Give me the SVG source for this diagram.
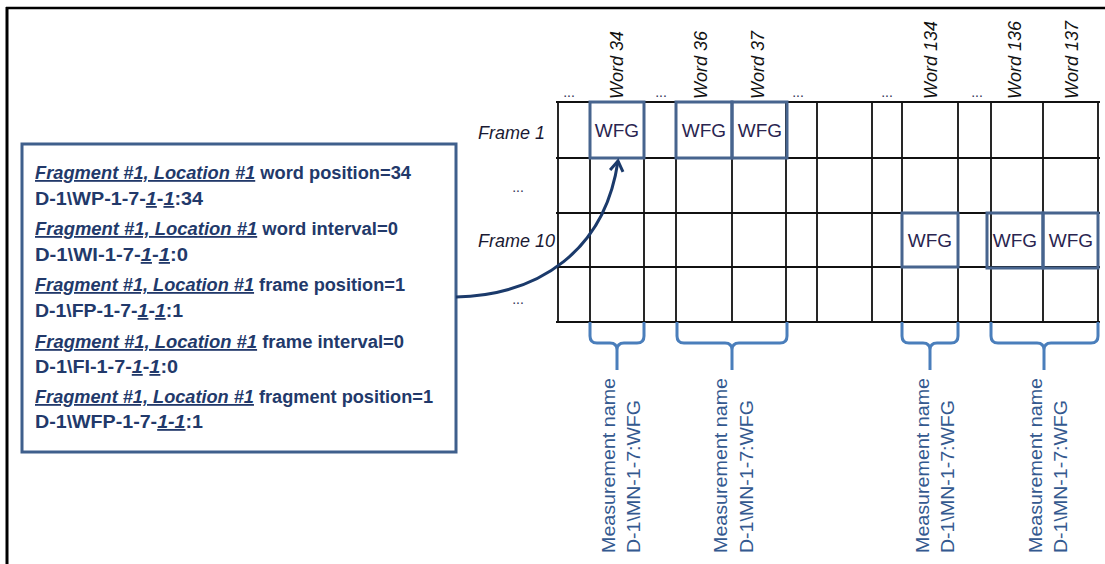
<svg xmlns="http://www.w3.org/2000/svg" width="1105" height="564" viewBox="0 0 1105 564">
<style>
.frame{stroke:#000;fill:none}
.grid{stroke:#111;stroke-width:1.8;fill:none}
.wfgbox{fill:none;stroke:#47648E;stroke-width:3}
.wfg{font-family:"Liberation Sans",Arial,sans-serif;font-size:19px;fill:#2a2550;text-anchor:middle}
.hdr{font-family:"Liberation Sans",Arial,sans-serif;font-size:18px;font-style:italic;fill:#111}
.row{font-family:"Liberation Sans",Arial,sans-serif;font-size:18px;font-style:italic;fill:#1a1a33}
.dots{font-family:"Liberation Sans",Arial,sans-serif;font-size:14px;fill:#333355;text-anchor:middle}
.info{font-family:"Liberation Sans",Arial,sans-serif;font-size:18px;font-weight:bold;fill:#22396A}
.u{font-style:italic;text-decoration:underline}
.brace{fill:none;stroke:#4A7EBB;stroke-width:3;stroke-linejoin:round}
.meas{font-family:"Liberation Sans",Arial,sans-serif;font-size:18px;fill:#34598F}
.conn{fill:none;stroke:#1B3A6B;stroke-width:3}
</style>
<defs>
<marker id="ah" viewBox="0 0 16 16" refX="13" refY="8" markerWidth="16" markerHeight="16" markerUnits="userSpaceOnUse" orient="auto">
<path d="M3,1.5 L13,8 L3,14.5" fill="none" stroke="#1B3A6B" stroke-width="3"/>
</marker>
</defs>
<rect width="1105" height="564" fill="#fff"/>
<g id="outer-frame">
<line class="frame" x1="6" y1="8" x2="1105" y2="8" stroke-width="2.5"/>
<line class="frame" x1="7" y1="7" x2="7" y2="564" stroke-width="3"/>
</g>
<g id="grid">
<path class="grid" d="M558,102V322M590,102V322M644,102V322M676,102V322M732,102V322M786,102V322M817,102V322M872,102V322M902,102V322M958,102V322M991,102V322M1043,102V322M1098,102V322M556,102H1100M556,158H1100M556,213H1100M556,267H1100M556,322H1100"/>
</g>
<g id="column-headers">
<text class="hdr" transform="translate(623,99) rotate(-90)">Word 34</text>
<text class="hdr" transform="translate(707,99) rotate(-90)">Word 36</text>
<text class="hdr" transform="translate(764,99) rotate(-90)">Word 37</text>
<text class="hdr" transform="translate(937,99) rotate(-90)">Word 134</text>
<text class="hdr" transform="translate(1021,99) rotate(-90)">Word 136</text>
<text class="hdr" transform="translate(1078,99) rotate(-90)">Word 137</text>
<text class="dots" x="569" y="97">...</text>
<text class="dots" x="661" y="97">...</text>
<text class="dots" x="798" y="97">...</text>
<text class="dots" x="887" y="97">...</text>
<text class="dots" x="977" y="97">...</text>
</g>
<g id="row-headers">
<text class="row" x="478" y="139">Frame 1</text>
<text class="dots" x="518" y="192">...</text>
<text class="row" x="478" y="247">Frame 10</text>
<text class="dots" x="518" y="304">...</text>
</g>
<g id="wfg-w34-f1"><rect class="wfgbox" x="590" y="102" width="54" height="56"/><text class="wfg" x="617" y="137">WFG</text></g>
<g id="wfg-w36-f1"><rect class="wfgbox" x="676" y="102" width="56" height="56"/><text class="wfg" x="704" y="137">WFG</text></g>
<g id="wfg-w37-f1"><rect class="wfgbox" x="732" y="102" width="55" height="56"/><text class="wfg" x="760" y="137">WFG</text></g>
<g id="wfg-w134-f10"><rect class="wfgbox" x="902" y="213" width="56" height="54"/><text class="wfg" x="930" y="247">WFG</text></g>
<g id="wfg-w136-f10"><rect class="wfgbox" x="987" y="213" width="56" height="55"/><text class="wfg" x="1015" y="247">WFG</text></g>
<g id="wfg-w137-f10"><rect class="wfgbox" x="1043" y="213" width="55" height="55"/><text class="wfg" x="1071" y="247">WFG</text></g>
<g id="info-box">
<rect x="22" y="144" width="434" height="308" fill="#fff" stroke="#3F5F8C" stroke-width="3"/>
<text class="info" x="35" y="179" textLength="376" lengthAdjust="spacingAndGlyphs"><tspan class="u">Fragment #1, Location #1</tspan> word position=34</text>
<text class="info" x="35" y="205" textLength="168" lengthAdjust="spacingAndGlyphs">D-1\WP-1-7-<tspan class="u">1</tspan>-<tspan class="u">1</tspan>:34</text>
<text class="info" x="35" y="235" textLength="363" lengthAdjust="spacingAndGlyphs"><tspan class="u">Fragment #1, Location #1</tspan> word interval=0</text>
<text class="info" x="35" y="261" textLength="153" lengthAdjust="spacingAndGlyphs">D-1\WI-1-7-<tspan class="u">1</tspan>-<tspan class="u">1</tspan>:0</text>
<text class="info" x="35" y="291" textLength="370" lengthAdjust="spacingAndGlyphs"><tspan class="u">Fragment #1, Location #1</tspan> frame position=1</text>
<text class="info" x="35" y="317" textLength="148" lengthAdjust="spacingAndGlyphs">D-1\FP-1-7-<tspan class="u">1</tspan>-<tspan class="u">1</tspan>:1</text>
<text class="info" x="35" y="348" textLength="369" lengthAdjust="spacingAndGlyphs"><tspan class="u">Fragment #1, Location #1</tspan> frame interval=0</text>
<text class="info" x="35" y="373" textLength="143" lengthAdjust="spacingAndGlyphs">D-1\FI-1-7-<tspan class="u">1</tspan>-<tspan class="u">1</tspan>:0</text>
<text class="info" x="35" y="403" textLength="398" lengthAdjust="spacingAndGlyphs"><tspan class="u">Fragment #1, Location #1</tspan> fragment position=1</text>
<text class="info" x="35" y="428" textLength="168" lengthAdjust="spacingAndGlyphs">D-1\WFP-1-7-<tspan class="u">1-1</tspan>:1</text>
</g>
<g id="braces">
<path class="brace" d="M590,322V336Q590,343 597,343H610Q617,343 617,350V370M644,322V336Q644,343 637,343H624Q617,343 617,350"/>
<path class="brace" d="M677,322V336Q677,343 684,343H725Q732,343 732,350V370M787,322V336Q787,343 780,343H739Q732,343 732,350"/>
<path class="brace" d="M902,322V336Q902,343 909,343H923Q930,343 930,350V370M958,322V336Q958,343 951,343H937Q930,343 930,350"/>
<path class="brace" d="M991,322V336Q991,343 998,343H1037Q1044,343 1044,350V370M1098,322V336Q1098,343 1091,343H1051Q1044,343 1044,350"/>
</g>
<g id="measurement-labels">
<text class="meas" transform="translate(615,553) rotate(-90)" textLength="175" lengthAdjust="spacingAndGlyphs">Measurement name</text>
<text class="meas" transform="translate(640,553) rotate(-90)" textLength="153" lengthAdjust="spacingAndGlyphs">D-1\MN-1-7:WFG</text>
<text class="meas" transform="translate(727,553) rotate(-90)" textLength="175" lengthAdjust="spacingAndGlyphs">Measurement name</text>
<text class="meas" transform="translate(753,553) rotate(-90)" textLength="153" lengthAdjust="spacingAndGlyphs">D-1\MN-1-7:WFG</text>
<text class="meas" transform="translate(929,553) rotate(-90)" textLength="175" lengthAdjust="spacingAndGlyphs">Measurement name</text>
<text class="meas" transform="translate(954,553) rotate(-90)" textLength="153" lengthAdjust="spacingAndGlyphs">D-1\MN-1-7:WFG</text>
<text class="meas" transform="translate(1042,553) rotate(-90)" textLength="175" lengthAdjust="spacingAndGlyphs">Measurement name</text>
<text class="meas" transform="translate(1067,553) rotate(-90)" textLength="153" lengthAdjust="spacingAndGlyphs">D-1\MN-1-7:WFG</text>
</g>
<g id="connectors">
<path class="conn" d="M456,297 C540,295 605,250 618,161" marker-end="url(#ah)"/>
</g>
</svg>
